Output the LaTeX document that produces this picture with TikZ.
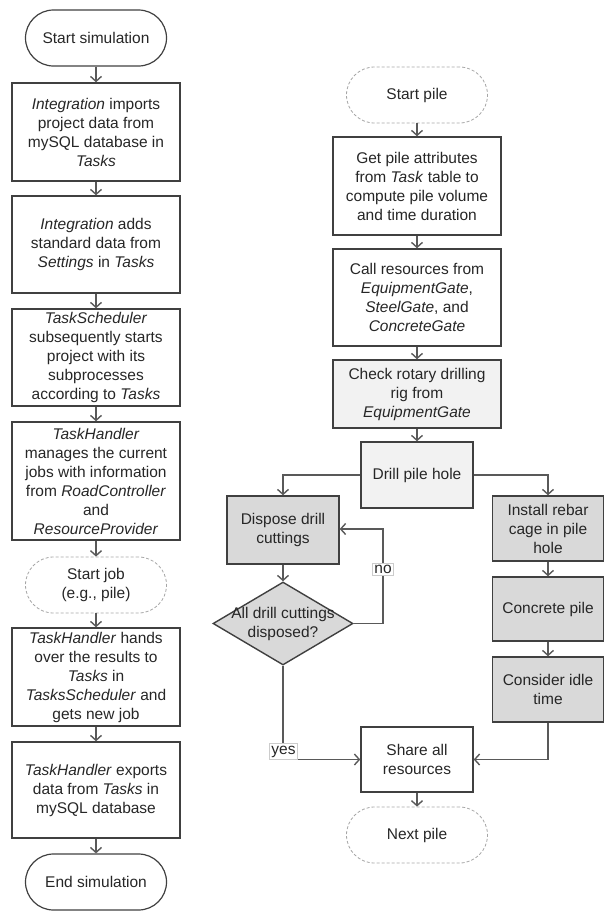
\documentclass[tikz,border=0pt]{standalone}
\usepackage{fontspec}
\setmainfont{Liberation Sans}
\usetikzlibrary{shapes.geometric,arrows.meta}
\definecolor{edgegray}{HTML}{404040}
\definecolor{linkgray}{HTML}{595959}
\definecolor{lightfill}{HTML}{F2F2F2}
\definecolor{darkfill}{HTML}{D9D9D9}

\begin{document}
\begin{tikzpicture}[x=1pt, y=-1pt,
	every node/.style={font=\fontsize{15.5}{19}\selectfont, text=black!85, align=center, inner sep=1pt},
	box/.style={draw=edgegray, line width=1.4pt, minimum width=168pt},
	small/.style={draw=edgegray, line width=1.4pt, minimum width=112pt},
	term/.style={draw=edgegray, line width=1.2pt, minimum width=141pt, minimum height=56pt, rounded corners=28pt},
	ghost/.style={term, draw=gray!70, line width=0.8pt, dash pattern=on 3pt off 2pt},
	link/.style={draw=linkgray, line width=1.4pt, -{Straight Barb[length=5pt,width=11pt]}},
	tag/.style={draw=gray!40, line width=0.5pt, fill=white, inner sep=2pt}]
	\useasboundingbox (0,0) rectangle (604,911);
	% left column
	\node[term] (simstart) at (96,38) {Start simulation};
	\node[box, minimum height=98pt] (imports) at (96,132) {\textit{Integration} imports\\project data from\\mySQL database in\\\textit{Tasks}};
	\node[box, minimum height=97pt] (adds) at (96,244.5) {\textit{Integration} adds\\standard data from\\\textit{Settings} in \textit{Tasks}};
	\node[box, minimum height=97pt] (sched) at (96,357.5) {\textit{TaskScheduler}\\subsequently starts\\project with its\\subprocesses\\according to \textit{Tasks}};
	\node[box, minimum height=118pt] (manage) at (96,481) {\textit{TaskHandler}\\manages the current\\jobs with information\\from \textit{RoadController}\\and\\\textit{ResourceProvider}};
	\node[ghost] (jobstart) at (96,585) {Start job\\(e.g., pile)};
	\node[box, minimum height=98pt] (hands) at (96,677) {\textit{TaskHandler} hands\\over the results to\\\textit{Tasks} in\\\textit{TasksScheduler} and\\gets new job};
	\node[box, minimum height=96pt] (export) at (96,790) {\textit{TaskHandler} exports\\data from \textit{Tasks} in\\mySQL database};
	\node[term] (simend) at (96,882) {End simulation};
	\foreach \a/\b in {simstart/imports, imports/adds, adds/sched, sched/manage, manage/jobstart, jobstart/hands, hands/export, export/simend}
		\draw[link] (\a) -- (\b);
	% right column
	\node[ghost] (pilestart) at (417,95) {Start pile};
	\node[box, minimum height=98pt] (attr) at (417,186) {Get pile attributes\\from \textit{Task} table to\\compute pile volume\\and time duration};
	\node[box, minimum height=97pt] (call) at (417,297.5) {Call resources from\\\textit{EquipmentGate},\\\textit{SteelGate}, and\\\textit{ConcreteGate}};
	\node[box, fill=lightfill, minimum height=68pt] (check) at (417,394) {Check rotary drilling\\rig from\\\textit{EquipmentGate}};
	\node[small, fill=lightfill, minimum height=66pt] (drill) at (417,475) {Drill pile hole};
	\node[small, fill=darkfill, minimum height=68pt] (dispose) at (283,530) {Dispose drill\\cuttings};
	\node[draw=edgegray, line width=1.4pt, fill=darkfill, diamond, minimum width=140pt, minimum height=83pt, inner sep=0pt,
		label={[align=center]center:All drill cuttings\\disposed?}] (alldone) at (283,623.5) {};
	\node[small, fill=darkfill, minimum width=111pt, minimum height=65pt] (rebar) at (548,528.5) {Install rebar\\cage in pile\\hole};
	\node[small, fill=darkfill, minimum width=111pt, minimum height=64pt] (concrete) at (548,609) {Concrete pile};
	\node[small, fill=darkfill, minimum width=111pt, minimum height=65pt] (idle) at (548,689.5) {Consider idle\\time};
	\node[small, minimum height=65pt] (share) at (417,759.5) {Share all\\resources};
	\node[ghost] (pilenext) at (417,835) {Next pile};
	\coordinate (noturn) at (383,529);
	\draw[link] (pilestart) -- (attr);
	\draw[link] (attr) -- (call);
	\draw[link] (call) -- (check);
	\draw[link] (check) -- (drill);
	\draw[link] (drill.west) -| (dispose.north);
	\draw[link] (drill.east) -| (rebar.north);
	\draw[link] (dispose) -- (alldone);
	\draw[link] (alldone.east) -| (noturn) -- (noturn -| dispose.east);
	\draw[link] (rebar) -- (concrete);
	\draw[link] (concrete) -- (idle);
	\draw[link] (alldone.south) |- (share.west);
	\draw[link] (idle.south) |- (share.east);
	\draw[link] (share) -- (pilenext);
	\node[tag] (nolabel) at (383,569) {no};
	\node[tag] (yeslabel) at (283.5,751.5) {yes};
\end{tikzpicture}
\end{document}
